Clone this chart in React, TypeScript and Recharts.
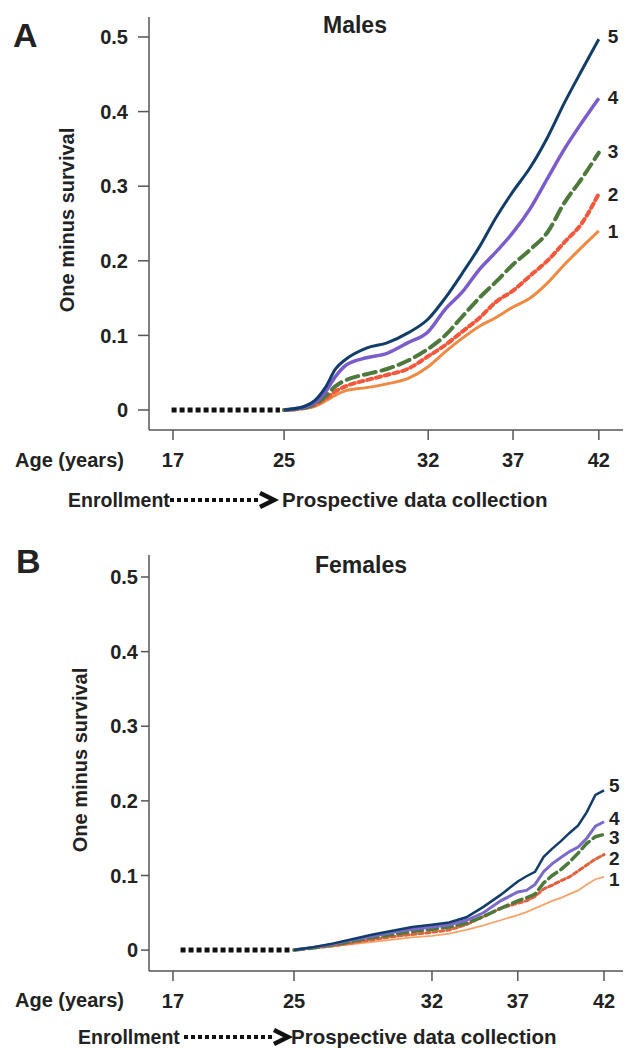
import { LineChart, Line, XAxis, YAxis } from "recharts";

// ---- data ----
const xTicks = [17, 25, 32, 37, 42];
const yTicks = [0, 0.1, 0.2, 0.3, 0.4, 0.5];
const groups = ["1", "2", "3", "4", "5"];

const maleAges = [25, 26, 26.5, 27, 27.5, 28, 29, 30, 31, 32, 33, 34, 35, 36, 37, 38, 39, 40, 41, 42];
const male1 = [0, 0.002, 0.005, 0.012, 0.02, 0.026, 0.03, 0.035, 0.042, 0.058, 0.078, 0.096, 0.112, 0.124, 0.138, 0.15, 0.17, 0.195, 0.218, 0.24];
const male2 = [0, 0.003, 0.007, 0.015, 0.025, 0.032, 0.04, 0.047, 0.055, 0.072, 0.087, 0.105, 0.123, 0.145, 0.16, 0.18, 0.2, 0.225, 0.25, 0.29];
const male3 = [0, 0.003, 0.008, 0.018, 0.032, 0.04, 0.048, 0.055, 0.066, 0.082, 0.1, 0.125, 0.15, 0.172, 0.195, 0.215, 0.238, 0.278, 0.31, 0.345];
const male4 = [0, 0.004, 0.01, 0.024, 0.045, 0.06, 0.07, 0.076, 0.09, 0.105, 0.135, 0.158, 0.188, 0.212, 0.238, 0.27, 0.31, 0.35, 0.385, 0.418];
const male5 = [0, 0.005, 0.013, 0.03, 0.055, 0.068, 0.083, 0.09, 0.103, 0.122, 0.15, 0.183, 0.218, 0.258, 0.293, 0.325, 0.365, 0.412, 0.455, 0.497];

const femaleAges = [25, 26, 27, 28, 29, 30, 31, 32, 33, 34, 35, 36, 37, 37.5, 38, 38.5, 39, 39.5, 40, 40.5, 41, 41.5, 42];
const female1 = [0, 0.002, 0.005, 0.008, 0.011, 0.014, 0.017, 0.019, 0.022, 0.027, 0.033, 0.04, 0.047, 0.051, 0.056, 0.061, 0.066, 0.07, 0.075, 0.08, 0.088, 0.095, 0.098];
const female2 = [0, 0.003, 0.006, 0.01, 0.014, 0.018, 0.021, 0.024, 0.027, 0.034, 0.045, 0.056, 0.063, 0.066, 0.072, 0.082, 0.087, 0.093, 0.098, 0.106, 0.114, 0.122, 0.128];
const female3 = [0, 0.003, 0.007, 0.012, 0.017, 0.021, 0.025, 0.028, 0.031, 0.036, 0.045, 0.056, 0.066, 0.07, 0.075, 0.09, 0.1, 0.108, 0.118, 0.13, 0.143, 0.152, 0.155];
const female4 = [0, 0.004, 0.008, 0.014, 0.019, 0.024, 0.028, 0.031, 0.034, 0.04, 0.05, 0.066, 0.078, 0.08, 0.088, 0.105, 0.116, 0.124, 0.132, 0.138, 0.15, 0.166, 0.172];
const female5 = [0, 0.004, 0.009, 0.015, 0.021, 0.026, 0.031, 0.034, 0.037, 0.044, 0.058, 0.074, 0.092, 0.099, 0.105, 0.125, 0.136, 0.146, 0.157, 0.167, 0.185, 0.208, 0.214];

// enrollment period, drawn dotted at zero
const enrollMale = [16.9, 24.7];
const enrollFemale = [17.5, 24.7];

// ---- the age axis is stretched unevenly in the original, so map age -> axis fraction ----
const knotsA = [0.0506, 0.285, 0.589, 0.768, 0.949];
const knotsB = [0.0506, 0.306, 0.597, 0.778, 0.96];

function ageScale(knots: number[]) {
  return (age: number) => {
    let i = 0;
    while (i < xTicks.length - 2 && age > xTicks[i + 1]) i++;
    const t = (age - xTicks[i]) / (xTicks[i + 1] - xTicks[i]);
    return knots[i] + t * (knots[i + 1] - knots[i]);
  };
}

function buildRows(ages: number[], series: number[][], enroll: number[], knots: number[]) {
  const toPos = ageScale(knots);
  const rows: any[] = enroll.map((a) => ({ pos: toPos(a), enroll: 0 }));
  ages.forEach((a, i) => {
    const row: any = { pos: toPos(a) };
    series.forEach((s, k) => {
      row["s" + (k + 1)] = s[i];
    });
    rows.push(row);
  });
  return rows;
}

const maleRows = buildRows(maleAges, [male1, male2, male3, male4, male5], enrollMale, knotsA);
const femaleRows = buildRows(femaleAges, [female1, female2, female3, female4, female5], enrollFemale, knotsB);

const font = "'Liberation Sans', Arial, sans-serif";
const ink = "#222";

type LineStyle = { color: string; width: number; dash?: string };

const maleStyles: LineStyle[] = [
  { color: "#f08a42", width: 3 },
  { color: "#f4583c", width: 4, dash: "5 4" },
  { color: "#4d7a3c", width: 4, dash: "12 6" },
  { color: "#7a5ccc", width: 3.5 },
  { color: "#123d6a", width: 3 },
];

const femaleStyles: LineStyle[] = [
  { color: "#f5a36a", width: 1.8 },
  { color: "#e2603c", width: 3, dash: "4 3" },
  { color: "#4d7a3c", width: 3.5, dash: "10 5" },
  { color: "#7b6acc", width: 3 },
  { color: "#123d6a", width: 2.5 },
];

function Panel({
  rows,
  styles,
  curve,
  height,
  plotTop,
  plotBottom,
  yDomain,
  knots,
  yTickSize,
  yTickMargin,
  labelDx,
  labelDy,
}: {
  rows: any[];
  styles: LineStyle[];
  curve: "monotone" | "linear";
  height: number;
  plotTop: number;
  plotBottom: number;
  yDomain: [number, number];
  knots: number[];
  yTickSize: number;
  yTickMargin: number;
  labelDx: number;
  labelDy: number[];
}) {
  const last = rows.length - 1;
  return (
    <LineChart
      width={625}
      height={height}
      data={rows}
      margin={{ top: plotTop, right: 2, left: 0, bottom: 0 }}
    >
      <XAxis
        type="number"
        dataKey="pos"
        domain={[0, 1]}
        ticks={knots}
        tickFormatter={(_v: number, i: number) => String(xTicks[i])}
        height={height - plotBottom}
        tickSize={10}
        tickMargin={13}
        stroke="#555"
        strokeWidth={1.5}
        tick={{ fill: ink, fontSize: 20, fontWeight: 700, fontFamily: font }}
      />
      <YAxis
        type="number"
        domain={yDomain}
        ticks={yTicks}
        width={149}
        tickSize={yTickSize}
        tickMargin={yTickMargin}
        stroke="#555"
        strokeWidth={1.5}
        tick={{ fill: ink, fontSize: 20, fontWeight: 700, fontFamily: font }}
      />
      <Line
        dataKey="enroll"
        stroke="#111"
        strokeWidth={5}
        strokeDasharray="5 3"
        dot={false}
        isAnimationActive={false}
      />
      {styles.map((st, k) => (
        <Line
          key={k}
          type={curve}
          dataKey={"s" + (k + 1)}
          stroke={st.color}
          strokeWidth={st.width}
          strokeDasharray={st.dash}
          strokeLinecap={st.dash ? "round" : "butt"}
          dot={false}
          isAnimationActive={false}
          label={(p: any) =>
            p.index === last ? (
              <text
                key={"l" + k}
                x={p.x + labelDx}
                y={p.y + labelDy[k]}
                dy="0.36em"
                fill={ink}
                fontSize={19}
                fontWeight={700}
                fontFamily={font}
              >
                {groups[k]}
              </text>
            ) : (
              <g key={"e" + k + "-" + p.index} />
            )
          }
        />
      ))}
    </LineChart>
  );
}

function Arrow({ x1, x2, y }: { x1: number; x2: number; y: number }) {
  return (
    <g>
      <line x1={x1} x2={x2 - 16} y1={y} y2={y} stroke="#111" strokeWidth={4} strokeDasharray="4 3" />
      <polyline
        points={`${x2 - 16},${y - 7} ${x2 - 2},${y} ${x2 - 16},${y + 7}`}
        fill="none"
        stroke="#111"
        strokeWidth={4.5}
      />
    </g>
  );
}

export default function App() {
  const txt = { fill: ink, fontFamily: font, fontWeight: 700 } as const;
  return (
    <div style={{ position: "absolute", left: 0, top: 0, width: 625, height: 1048, background: "#fff" }}>
      <div style={{ position: "absolute", left: 0, top: 0 }}>
        <Panel
          rows={maleRows}
          styles={maleStyles}
          curve="monotone"
          height={480}
          plotTop={17}
          plotBottom={430}
          yDomain={[-0.0268, 0.5268]}
          knots={knotsA}
          yTickSize={11}
          yTickMargin={10}
          labelDx={9}
          labelDy={[0, 1, -1, -1, -3]}
        />
      </div>
      <div style={{ position: "absolute", left: 0, top: 530 }}>
        <Panel
          rows={femaleRows}
          styles={femaleStyles}
          curve="linear"
          height={500}
          plotTop={25}
          plotBottom={441}
          yDomain={[-0.028, 0.5295]}
          knots={knotsB}
          yTickSize={8}
          yTickMargin={3}
          labelDx={5}
          labelDy={[2, 4, 3, -4, -5]}
        />
      </div>
      <svg
        width={625}
        height={1048}
        style={{ position: "absolute", left: 0, top: 0, pointerEvents: "none" }}
      >
        <text x={13} y={47} fontSize={34} {...txt}>A</text>
        <text x={355} y={33} fontSize={23} textAnchor="middle" {...txt}>Males</text>
        <text x={15} y={467} fontSize={20} {...txt}>Age (years)</text>
        <text x={68} y={507} fontSize={19.5} {...txt}>Enrollment</text>
        <Arrow x1={170} x2={276} y={500} />
        <text x={282} y={507} fontSize={20.5} {...txt}>Prospective data collection</text>
        <text x={67} y={220} fontSize={20} textAnchor="middle" dy="0.36em" transform="rotate(-90 67 220)" {...txt}>
          One minus survival
        </text>

        <text x={16} y={573} fontSize={34} {...txt}>B</text>
        <text x={361} y={573} fontSize={23} textAnchor="middle" {...txt}>Females</text>
        <text x={15} y={1007} fontSize={20} {...txt}>Age (years)</text>
        <text x={78} y={1044} fontSize={19.5} {...txt}>Enrollment</text>
        <Arrow x1={184} x2={290} y={1037} />
        <text x={291} y={1044} fontSize={20.5} {...txt}>Prospective data collection</text>
        <text x={80} y={760} fontSize={20} textAnchor="middle" dy="0.36em" transform="rotate(-90 80 760)" {...txt}>
          One minus survival
        </text>
      </svg>
    </div>
  );
}
